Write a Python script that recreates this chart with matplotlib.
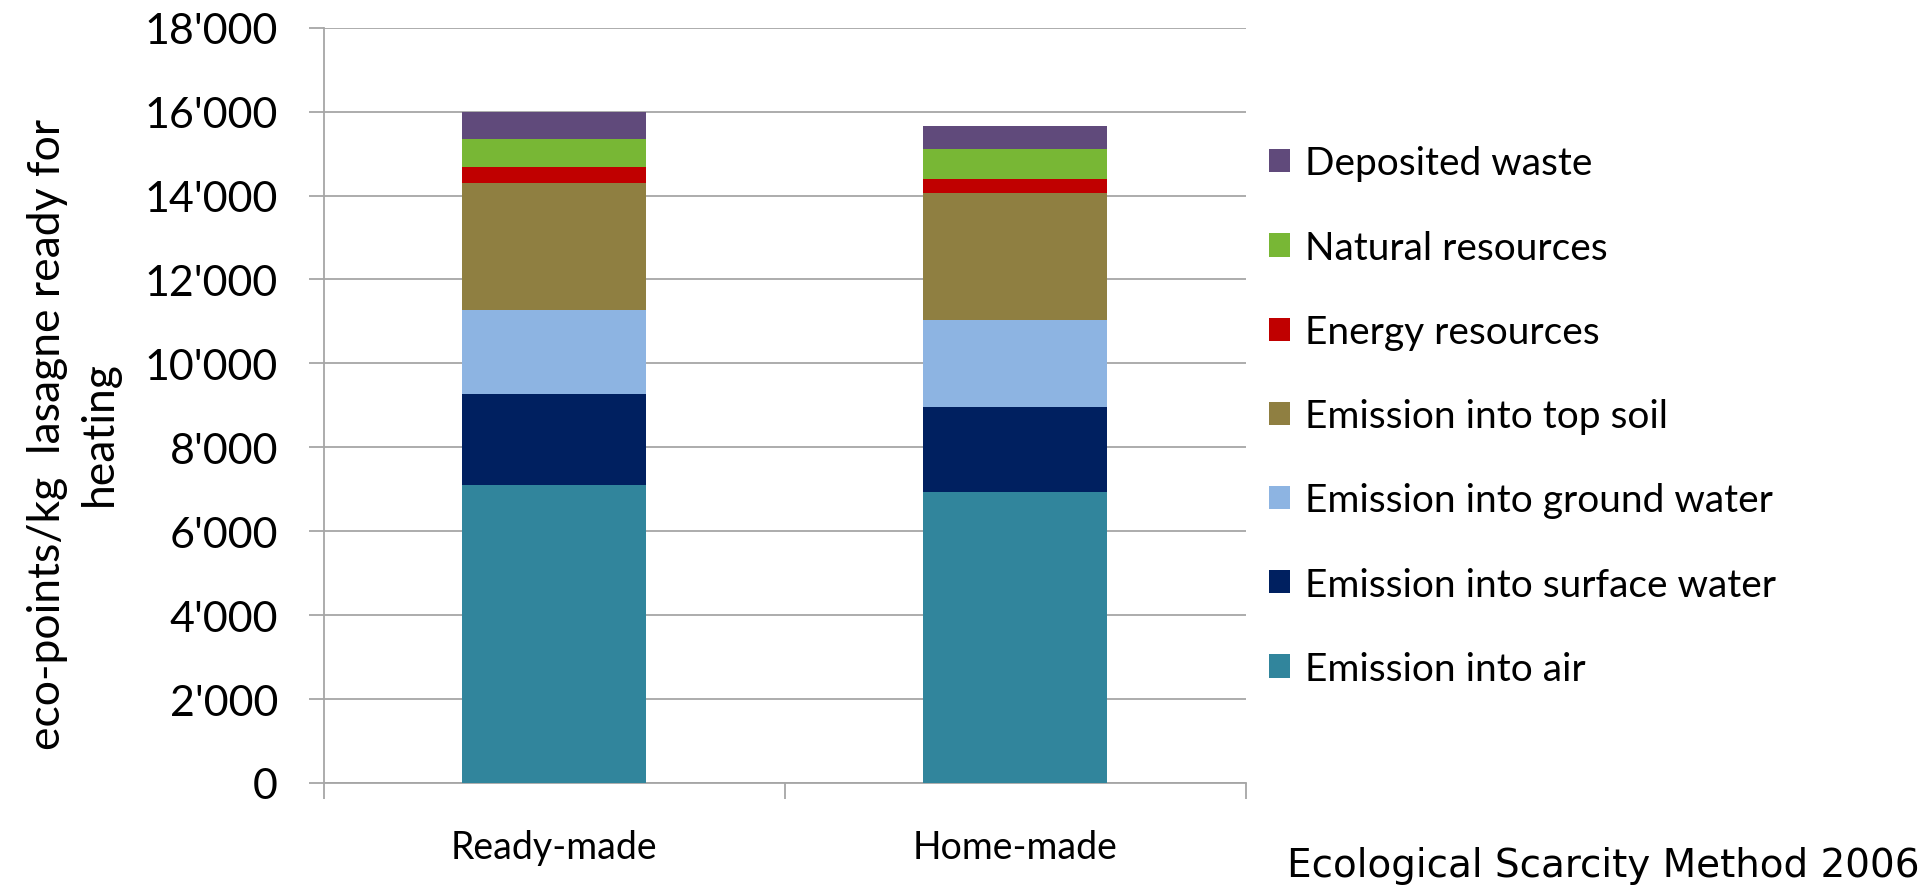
import numpy as np
import matplotlib
matplotlib.use("Agg")
import matplotlib.pyplot as plt
from matplotlib.ticker import FuncFormatter, FixedLocator
from matplotlib.patches import Patch

# Eco-points per kg of lasagne, split by impact category
categories = ["Ready-made", "Home-made"]
series_names = [
    "Emission into air",
    "Emission into surface water",
    "Emission into ground water",
    "Emission into top soil",
    "Energy resources",
    "Natural resources",
    "Deposited waste",
]
emission_air = [7100, 6940]
emission_surface_water = [2160, 2030]
emission_ground_water = [2020, 2070]
emission_top_soil = [3010, 3010]
energy_resources = [390, 350]
natural_resources = [670, 700]
deposited_waste = [640, 560]

series_values = [
    emission_air,
    emission_surface_water,
    emission_ground_water,
    emission_top_soil,
    energy_resources,
    natural_resources,
    deposited_waste,
]
colors = ["#31859C", "#002060", "#8DB4E2", "#8F7F41", "#C00000", "#78B735", "#604A7B"]

y_ticks = list(range(0, 18001, 2000))

W, H = 1927, 887
fig = plt.figure(figsize=(W / 100, H / 100), dpi=100)
ax = fig.add_axes([323.5 / W, (H - 784) / H, 922 / W, 755.3 / H])

grid_gray = "#A6A6A6"
main_font = "Lato"

x = np.arange(len(categories))
bottom = np.zeros(len(categories))
for name, vals, col in zip(series_names, series_values, colors):
    ax.bar(x, vals, width=0.4, bottom=bottom, color=col, label=name, zorder=3)
    bottom += np.array(vals)

ax.set_xlim(-0.5, 1.5)
ax.set_ylim(0, 18000)
ax.set_yticks(y_ticks)
ax.yaxis.set_major_formatter(FuncFormatter(lambda v, p: f"{v:,.0f}".replace(",", "'")))
ax.grid(axis="y", color=grid_gray, linewidth=1.3, zorder=0)
ax.set_axisbelow(True)

for side in ("top", "right"):
    ax.spines[side].set_visible(False)
for side in ("left", "bottom"):
    ax.spines[side].set_color(grid_gray)
    ax.spines[side].set_linewidth(1.3)

ax.tick_params(axis="y", direction="out", length=10.8, width=1.3, color=grid_gray,
               pad=22, labelsize=31, labelcolor="black")
for lbl in ax.get_yticklabels():
    lbl.set_fontfamily(main_font)

ax.set_xticks(x)
ax.set_xticklabels(categories, fontsize=27, fontfamily=main_font)
ax.tick_params(axis="x", which="major", length=0, pad=33)
ax.xaxis.set_minor_locator(FixedLocator([-0.5, 0.5, 1.5]))
ax.tick_params(axis="x", which="minor", direction="out", length=11.5, width=1.3, color=grid_gray)

fig.text(73 / W, 1 - 434 / H, "eco-points/kg  lasagne ready for\nheating",
         rotation=90, ha="center", va="center", multialignment="center",
         fontsize=32, family=main_font, linespacing=1.33)

handles = [Patch(facecolor=c, edgecolor="none") for c in colors][::-1]
labels = series_names[::-1]
fig.legend(handles, labels, loc="upper left", bbox_to_anchor=(1269 / W, 1 - 146.5 / H),
           frameon=False, borderpad=0, borderaxespad=0, handlelength=0.54, handleheight=0.54,
           handletextpad=0.39, labelspacing=1.24, prop={"family": main_font, "size": 28})

fig.text(1920 / W, 1 - 877 / H, "Ecological Scarcity Method 2006", ha="right", va="baseline",
         fontsize=28, family="DejaVu Sans")

fig.savefig("out.png", dpi=100, facecolor="white")
